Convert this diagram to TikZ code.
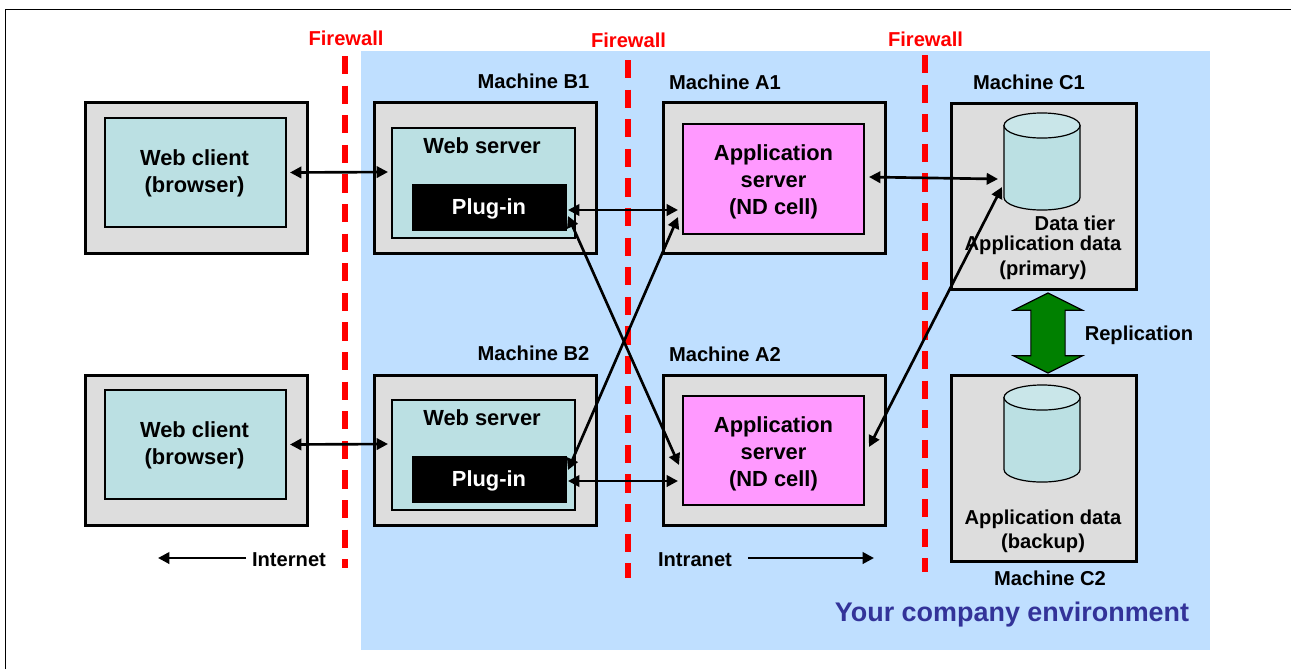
\documentclass[tikz,border=0pt]{standalone}
\usepackage{fontspec}
\setmainfont{Liberation Sans}
\usetikzlibrary{arrows.meta,calc,shapes.arrows}
\definecolor{envblue}{HTML}{BFDFFF}
\definecolor{machgray}{HTML}{DDDDDD}
\definecolor{tealfill}{HTML}{BBE0E3}
\definecolor{tealtop}{HTML}{C9E6E9}
\definecolor{pinkfill}{HTML}{FF99FF}
\definecolor{navytext}{HTML}{333399}
\definecolor{replgreen}{HTML}{008000}
\tikzset{
  x=0.75pt,y=-0.75pt,
  boxsize/.style 2 args={minimum width=#1*0.75pt,minimum height=#2*0.75pt},
  base/.style={inner sep=0pt,outer sep=0pt,rectangle,draw=black},
  machine/.style={base,fill=machgray,line width=2.25pt},
  inner/.style={base,fill=tealfill,line width=1.6pt},
  appbox/.style={base,fill=pinkfill,line width=1.6pt},
  plugbox/.style={base,fill=black},
  lbl/.style={inner sep=0pt,outer sep=0pt,align=center,font=\fontsize{15.1}{20.2}\selectfont\bfseries,text=black},
  lblbig/.style={lbl,font=\fontsize{16.4}{20.2}\selectfont\bfseries},
  fwlabel/.style={lbl,text=red},
  fwline/.style={draw=red,line width=3.8pt,dash pattern=on 13.6pt off 8.6pt},
  twoway/.style={draw=black,line width=2pt,{Triangle[length=8.5pt,width=8.5pt]}-{Triangle[length=8.5pt,width=8.5pt]}},
  oneway/.style={draw=black,line width=2pt,-{Triangle[length=8.5pt,width=8.5pt]}},
  dbspot/.style={rectangle,inner sep=0pt,outer sep=0pt,boxsize={76}{97}},
  dbline/.style={draw=black,line width=0.9pt},
}
% cylinder drawn over the empty named node #1
\newcommand{\dbdraw}[1]{%
  \path[dbline,fill=tealfill] ($(#1.north west)+(0,12.5)$) -- ($(#1.south west)+(0,-12.5)$)
     arc[start angle=180,end angle=360,x radius=28.5pt,y radius=9.4pt]
     -- ($(#1.north east)+(0,12.5)$) -- cycle;
  \path[dbline,fill=tealtop] ($(#1.north)+(0,12.5)$) ellipse[x radius=28.5pt,y radius=9.4pt];
}
\begin{document}
\begin{tikzpicture}
\useasboundingbox (0,0) rectangle (1291,669);
% environment and page frame
\path[fill=envblue] (361,51) rectangle (1210,650);
\draw[line width=1.3pt,black] (5.5,669) -- (5.5,9.5) -- (1291,9.5);
% firewalls
\coordinate (fw1a) at (345,56);  \coordinate (fw1b) at (345,568);
\coordinate (fw2a) at (628,60);  \coordinate (fw2b) at (628,578);
\coordinate (fw3a) at (925,55);  \coordinate (fw3b) at (925,572);
\draw[fwline] (fw1a) -- (fw1b);
\draw[fwline] (fw2a) -- (fw2b);
\draw[fwline] (fw3a) -- (fw3b);
\node[fwlabel] (fwt1) at (346,38) {Firewall};
\node[fwlabel] (fwt2) at (628.5,40) {Firewall};
\node[fwlabel] (fwt3) at (925.5,39) {Firewall};
% web clients
\node[machine,boxsize={222}{151}] (wc1) at (196,177.5) {};
\node[inner,boxsize={181}{109}] (wc1in) at (195.5,172.5) {};
\node[lblbig] (wc1t) at (194.5,173) {Web client\\(browser)};
\node[machine,boxsize={222}{150}] (wc2) at (196,450) {};
\node[inner,boxsize={181}{109}] (wc2in) at (195.5,444.5) {};
\node[lblbig] (wc2t) at (194.5,445) {Web client\\(browser)};
% web servers
\node[machine,boxsize={222}{151}] (m1) at (485,177.5) {};
\node[inner,boxsize={183}{110}] (ws1in) at (483.5,183) {};
\node[lblbig] (ws1t) at (482,145.5) {Web server};
\node[plugbox,boxsize={154}{46}] (plug1) at (489,207) {};
\node[lblbig,text=white] (plug1t) at (489,208.5) {Plug-in};
\node[machine,boxsize={222}{150}] (m2) at (485,450) {};
\node[inner,boxsize={183}{110}] (ws2in) at (483.5,455) {};
\node[lblbig] (ws2t) at (482,417.5) {Web server};
\node[plugbox,boxsize={154}{46}] (plug2) at (489,479) {};
\node[lblbig,text=white] (plug2t) at (489,480.5) {Plug-in};
% application servers
\node[machine,boxsize={222}{151}] (a1) at (774,177.5) {};
\node[appbox,boxsize={181}{110}] (as1in) at (773.5,179) {};
\node[lblbig] (as1t) at (773.5,182) {Application\\server\\(ND cell)};
\node[machine,boxsize={222}{150}] (a2) at (774,450) {};
\node[appbox,boxsize={181}{109}] (as2in) at (773.5,450.5) {};
\node[lblbig] (as2t) at (773.5,454) {Application\\server\\(ND cell)};
% data machines
\node[machine,boxsize={185}{186}] (c1) at (1043.5,196) {};
\node[dbspot] (cyl1) at (1042,161.5) {};
\dbdraw{cyl1}
\node[lbl] (dt) at (1075,223) {Data tier};
\node[lbl,font=\fontsize{15.1}{18.7}\selectfont\bfseries] (c1t) at (1043,257.5) {Application data\\(primary)};
\node[machine,boxsize={185}{186}] (c2) at (1043.5,468) {};
\node[dbspot] (cyl2) at (1042,433.5) {};
\dbdraw{cyl2}
\node[lbl,font=\fontsize{15.1}{18}\selectfont\bfseries] (c2t) at (1043,531) {Application data\\(backup)};
% replication
\node[shape=double arrow,shape border rotate=90,draw=black,line width=0.9pt,fill=replgreen,inner sep=12.4pt,outer sep=0pt,
  minimum height=80*0.75pt,double arrow head extend=13pt,double arrow tip angle=127] (rep) at (1048,333) {};
\node[lbl] (rept) at (1139,335) {Replication};
% machine labels
\node[lbl] (lb1) at (533.5,81) {Machine B1};
\node[lbl] (la1) at (725,82) {Machine A1};
\node[lbl] (lc1) at (1029,82) {Machine C1};
\node[lbl] (lb2) at (533.5,353) {Machine B2};
\node[lbl] (la2) at (725,354) {Machine A2};
\node[lbl] (lc2) at (1050,578) {Machine C2};
% zones
\node[lbl] (inet) at (289,560) {Internet};
\node[lbl] (intra) at (695,560) {Intranet};
\coordinate (inetend) at (158,558);
\coordinate (intraend) at (874,558);
\draw[oneway] ($(inet.west)+(-6,-2)$) -- (inetend);
\draw[oneway] ($(intra.east)+(16,-2)$) -- (intraend);
\node[lbl,text=navytext,font=\fontsize{20.2}{24}\selectfont\bfseries] (env) at (1012,615) {Your company environment};
% connectors
\draw[twoway] ($(wc1in.east)+(4,0)$) -- ($(ws1in.west)+(-4,-11)$);
\draw[twoway] ($(wc2in.east)+(4,0)$) -- ($(ws2in.west)+(-4,-11)$);
\draw[twoway] ($(plug1.east)+(2,3)$) -- ($(as1in.west)+(-5,31)$);
\draw[twoway] ($(plug2.east)+(2,2)$) -- ($(as2in.west)+(-5,30.5)$);
\draw[twoway] ($(plug1.east)+(2,9)$) -- ($(as2in.west)+(-4,14.5)$);
\draw[twoway] ($(plug2.east)+(2,-9)$) -- ($(as1in.west)+(-5,38)$);
\draw[twoway] ($(as1in.east)+(5,-2)$) -- ($(cyl1.center)+(-44,17.5)$);
\draw[twoway] ($(as2in.east)+(5,-3.5)$) -- ($(cyl1.center)+(-40,25.5)$);
\end{tikzpicture}
\end{document}
